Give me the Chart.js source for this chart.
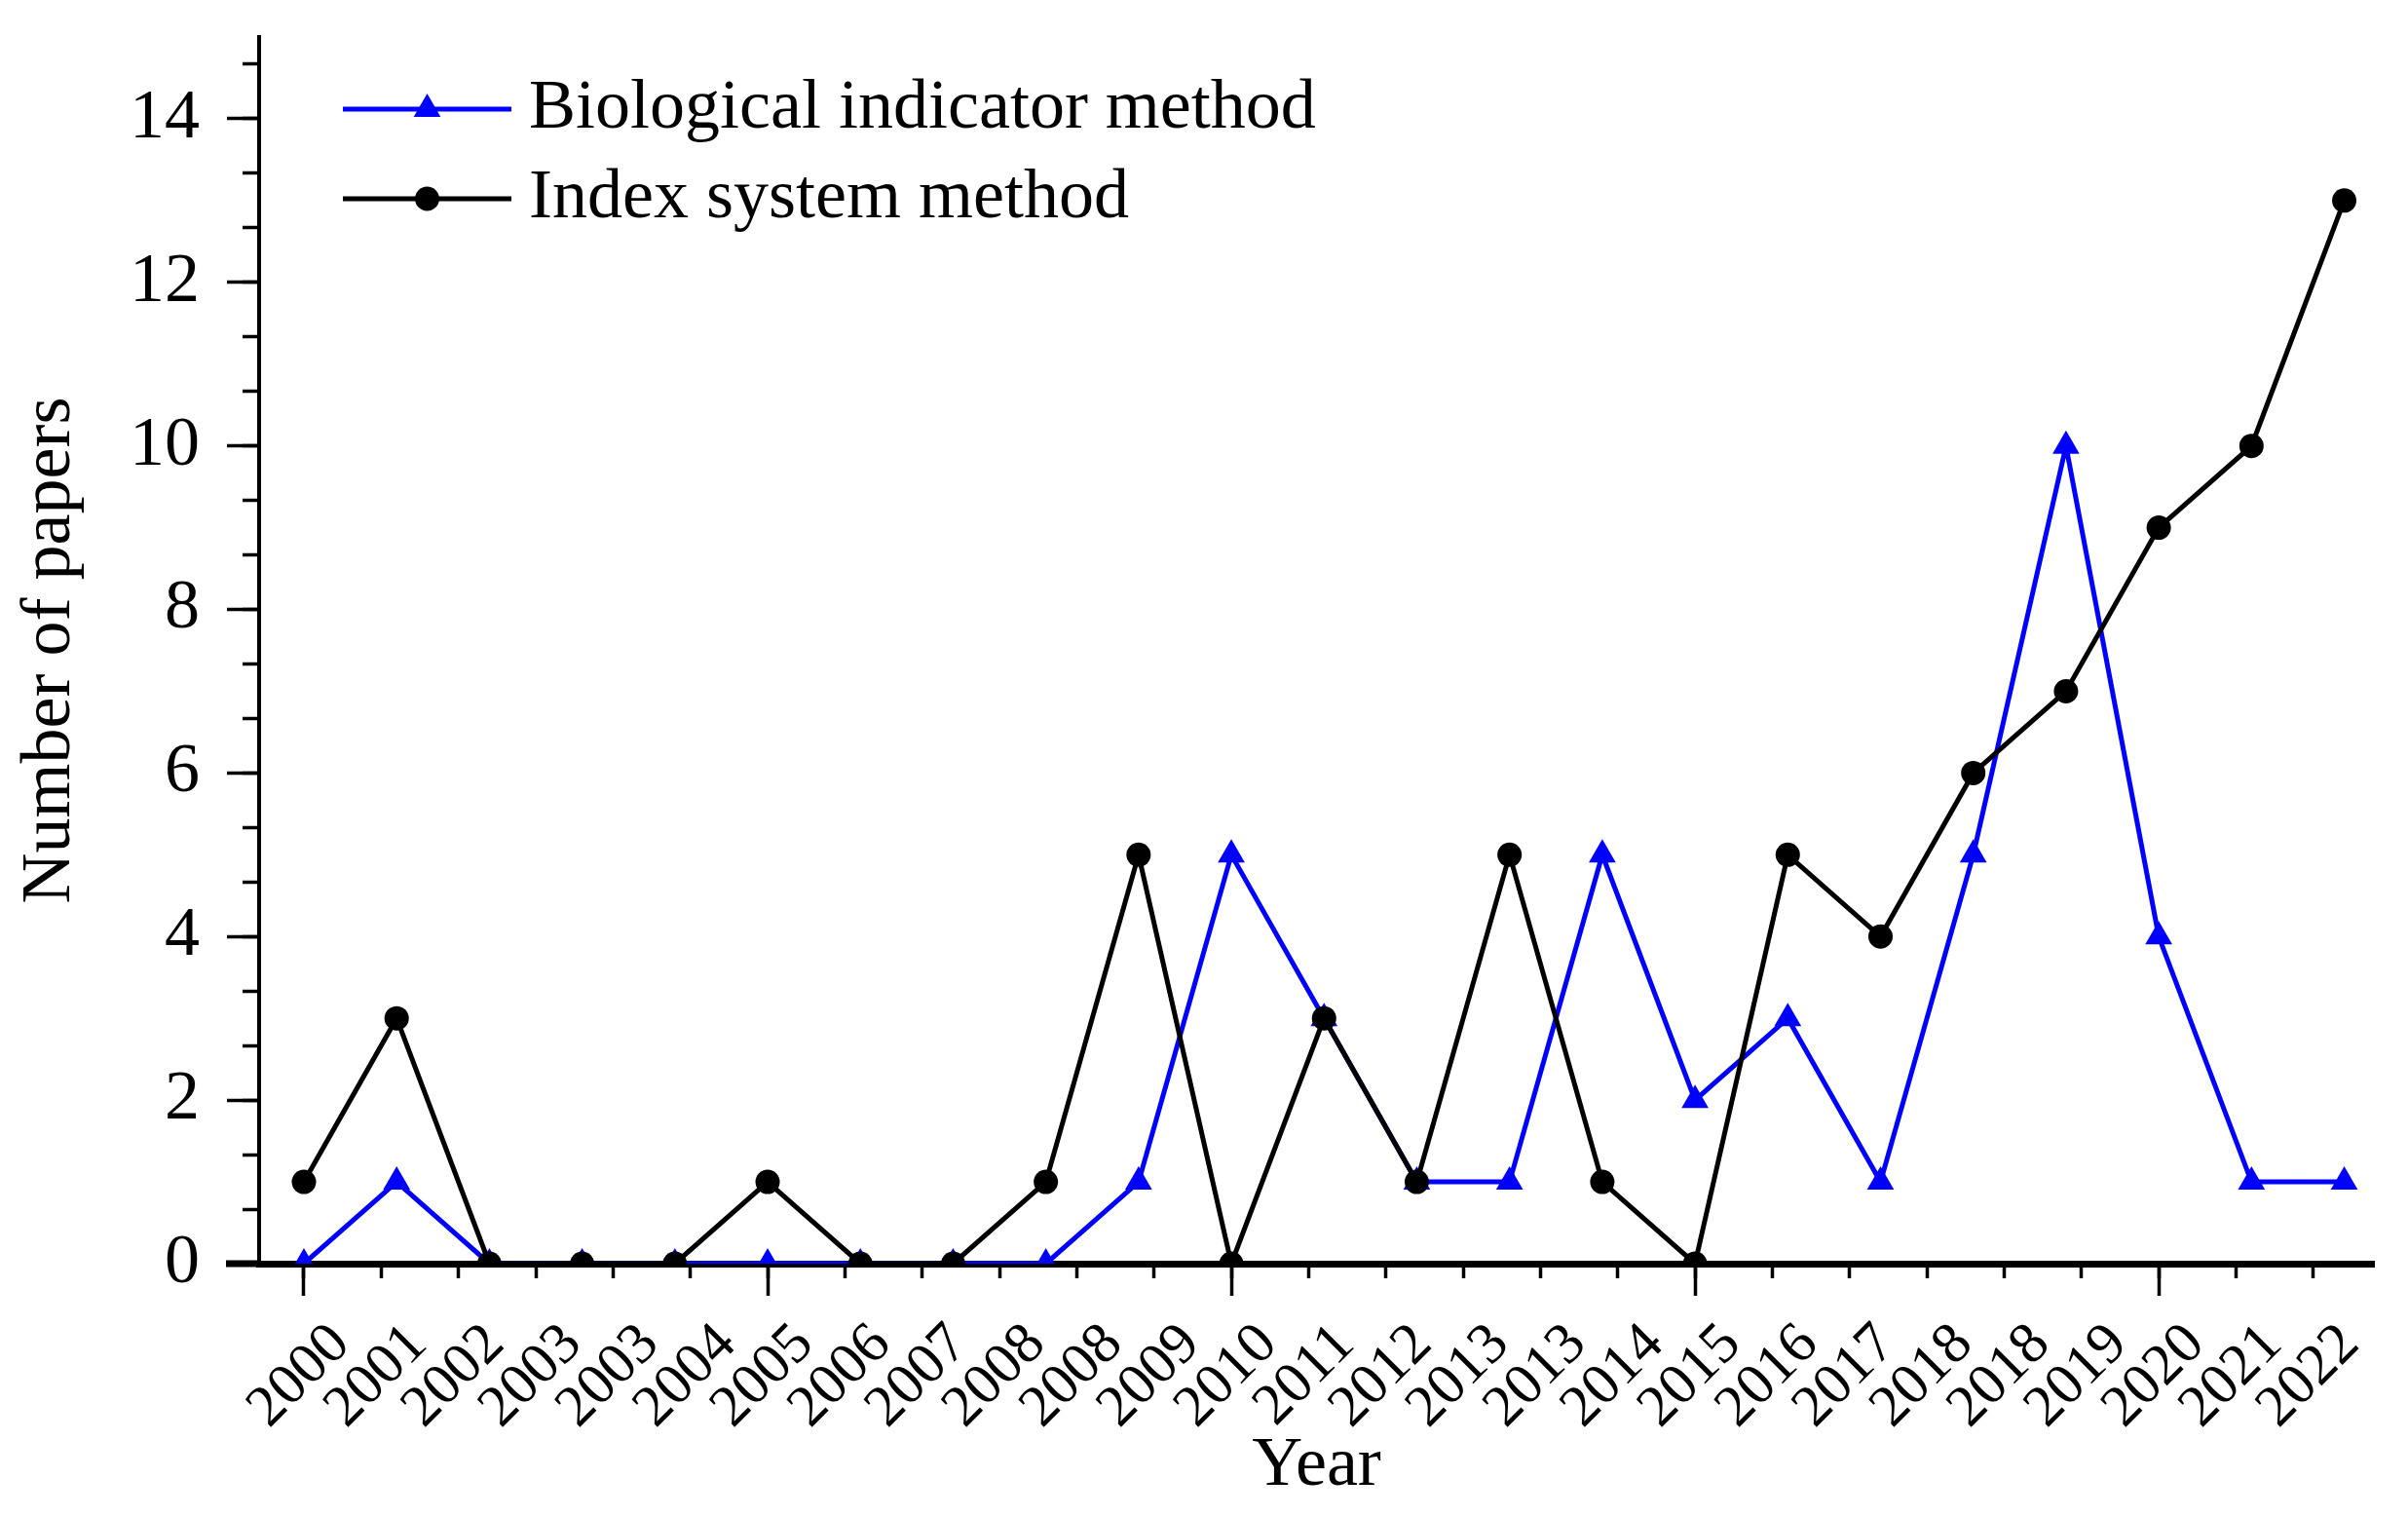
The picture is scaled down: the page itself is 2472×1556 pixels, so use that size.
<!DOCTYPE html>
<html>
<head>
<meta charset="utf-8">
<script src="https://cdn.jsdelivr.net/npm/chart.js@4.4.1/dist/chart.umd.min.js"></script>
<style>
  html, body { margin: 0; padding: 0; background: #fff; }
  #wrap { width: 2472px; height: 1556px; }
</style>
</head>
<body>
<div id="wrap"><canvas id="papersChart"></canvas></div>
<script>
var years = [2000, 2001, 2002, 2003, 2004, 2005, 2006, 2007, 2008, 2009, 2010, 2011,
             2012, 2013, 2014, 2015, 2016, 2017, 2018, 2019, 2020, 2021, 2022];
var biologicalIndicator = [0, 1, 0, 0, 0, 0, 0, 0, 0, 1, 5, 3, 1, 1, 5, 2, 3, 1, 5, 10, 4, 1, 1];
var indexSystem = [1, 3, 0, 0, 0, 1, 0, 0, 1, 5, 0, 3, 1, 5, 1, 0, 5, 4, 6, 7, 9, 10, 13];

// tick labels as printed under the axis (one every 5/6 year, rounded)
var xTickLabels = ['2000', '2001', '2002', '2003', '2003', '2004', '2005', '2006', '2007',
                   '2008', '2008', '2009', '2010', '2011', '2012', '2013', '2013', '2014',
                   '2015', '2016', '2017', '2018', '2018', '2019', '2020', '2021', '2022'];
var xMajorTicks = [2000, 2005, 2010, 2015, 2020];
var yTicks = [0, 2, 4, 6, 8, 10, 12, 14];

var X_MIN = 1999.517, X_MAX = 2022.32, X_LINE_START = 1999.16;
var Y_MIN = 0, Y_MAX = 15;
var FONT = 'Liberation Serif';

Chart.defaults.font.family = FONT;
Chart.defaults.color = '#000';

function toPoints(values) {
    return years.map(function (yr, i) { return { x: yr, y: values[i] }; });
}

// legend drawn inside the plot, line + marker like the original
var insideLegend = {
    id: 'insideLegend',
    afterDraw: function (chart) {
        var ctx = chart.ctx;
        var area = chart.chartArea;
        var rows = [chart.data.datasets[1], chart.data.datasets[0]];
        ctx.save();
        rows.forEach(function (ds, i) {
            var y = area.top + 74 + i * 92;
            var x0 = area.left + 86, x1 = area.left + 259;
            ctx.strokeStyle = ds.borderColor;
            ctx.lineWidth = 5;
            ctx.beginPath();
            ctx.moveTo(x0, y);
            ctx.lineTo(x1, y);
            ctx.stroke();
            ctx.fillStyle = ds.pointBackgroundColor;
            Chart.helpers.drawPoint(ctx, {
                pointStyle: ds.pointStyle, radius: ds.pointRadius, borderWidth: 0, rotation: 0
            }, (x0 + x1) / 2, y);
            ctx.fillStyle = '#000';
            ctx.font = '72px "' + FONT + '"';
            ctx.textAlign = 'left';
            ctx.textBaseline = 'middle';
            ctx.fillText(ds.label, area.left + 277, y);
        });
        // x axis line runs a little past the y axis on the left
        var xs = chart.scales.x;
        ctx.strokeStyle = '#000';
        ctx.lineWidth = 7;
        ctx.beginPath();
        ctx.moveTo(xs.getPixelForValue(X_LINE_START), area.bottom);
        ctx.lineTo(area.left, area.bottom);
        ctx.stroke();
        ctx.restore();
    }
};

var ctx = document.getElementById('papersChart').getContext('2d');
var papersChart = new Chart(ctx, {
    type: 'line',
    data: {
        datasets: [{
            label: 'Index system method',
            data: toPoints(indexSystem),
            xAxisID: 'x',
            yAxisID: 'y',
            order: 0,
            borderColor: '#000000',
            backgroundColor: '#000000',
            pointBackgroundColor: '#000000',
            borderWidth: 5,
            pointStyle: 'circle',
            pointRadius: 12.5,
            pointBorderWidth: 0,
            tension: 0,
            clip: 0
        }, {
            label: 'Biological indicator method',
            data: toPoints(biologicalIndicator),
            xAxisID: 'x',
            yAxisID: 'y',
            order: 1,
            borderColor: '#0000ff',
            backgroundColor: '#0000ff',
            pointBackgroundColor: '#0000ff',
            borderWidth: 5,
            pointStyle: 'triangle',
            pointRadius: 16,
            pointBorderWidth: 0,
            tension: 0,
            clip: 0
        }]
    },
    options: {
        responsive: true,
        maintainAspectRatio: false,
        animation: false,
        events: [],
        layout: {
            padding: { left: 0, top: 38, right: 35, bottom: 0 }
        },
        plugins: {
            legend: { display: false },
            tooltip: { enabled: false }
        },
        scales: {
            x: {
                type: 'linear',
                axis: 'x',
                position: 'bottom',
                min: X_MIN,
                max: X_MAX,
                z: 1,
                afterBuildTicks: function (scale) {
                    scale.ticks = xTickLabels.map(function (lab, i) { return { value: 2000 + i * 5 / 6 }; });
                },
                afterFit: function (scale) {
                    scale.height = 259;
                    scale.paddingLeft = 0;
                    scale.paddingRight = 0;
                },
                ticks: {
                    autoSkip: false,
                    minRotation: 45,
                    maxRotation: 45,
                    padding: 33,
                    labelOffset: 38,
                    font: { size: 60 },
                    color: '#000',
                    callback: function (value, index) { return xTickLabels[index]; }
                },
                grid: {
                    display: true,
                    drawOnChartArea: false,
                    drawTicks: true,
                    tickLength: 15,
                    tickWidth: 3.5,
                    tickColor: '#000'
                },
                border: { display: true, color: '#000', width: 7 },
                title: {
                    display: true,
                    text: 'Year',
                    font: { size: 72 },
                    color: '#000',
                    padding: { top: 0, bottom: 8 }
                }
            },
            xMajor: {
                type: 'linear',
                axis: 'x',
                position: { y: 0 },
                min: X_MIN,
                max: X_MAX,
                z: 1,
                afterBuildTicks: function (scale) {
                    scale.ticks = xMajorTicks.map(function (v) { return { value: v }; });
                },
                ticks: { display: false },
                grid: {
                    display: true,
                    drawOnChartArea: false,
                    drawTicks: true,
                    tickLength: 33,
                    tickWidth: 3.5,
                    tickColor: '#000'
                },
                border: { display: false }
            },
            y: {
                type: 'linear',
                axis: 'y',
                position: 'left',
                min: Y_MIN,
                max: Y_MAX,
                z: 1,
                afterBuildTicks: function (scale) {
                    scale.ticks = yTicks.map(function (v) { return { value: v }; });
                },
                afterFit: function (scale) {
                    scale.width = 266;
                    scale.paddingTop = 0;
                    scale.paddingBottom = 0;
                },
                ticks: {
                    padding: 28,
                    font: { size: 72 },
                    color: '#000'
                },
                grid: {
                    display: true,
                    drawOnChartArea: false,
                    drawTicks: true,
                    tickLength: 33,
                    tickWidth: 3.5,
                    tickColor: '#000'
                },
                border: { display: true, color: '#000', width: 4 },
                title: {
                    display: true,
                    text: 'Number of papers',
                    font: { size: 72 },
                    color: '#000',
                    padding: { top: 9, bottom: 0 }
                }
            },
            yMinor: {
                type: 'linear',
                axis: 'y',
                position: { x: X_MIN },
                min: Y_MIN,
                max: Y_MAX,
                z: 1,
                afterBuildTicks: function (scale) {
                    var t = [];
                    for (var i = 0; i * 2 / 3 <= Y_MAX; i++) t.push({ value: i * 2 / 3 });
                    scale.ticks = t;
                },
                ticks: { display: false },
                grid: {
                    display: true,
                    drawOnChartArea: false,
                    drawTicks: true,
                    tickLength: 17,
                    tickWidth: 3.5,
                    tickColor: '#000'
                },
                border: { display: false }
            }
        }
    },
    plugins: [insideLegend]
});
</script>
</body>
</html>
